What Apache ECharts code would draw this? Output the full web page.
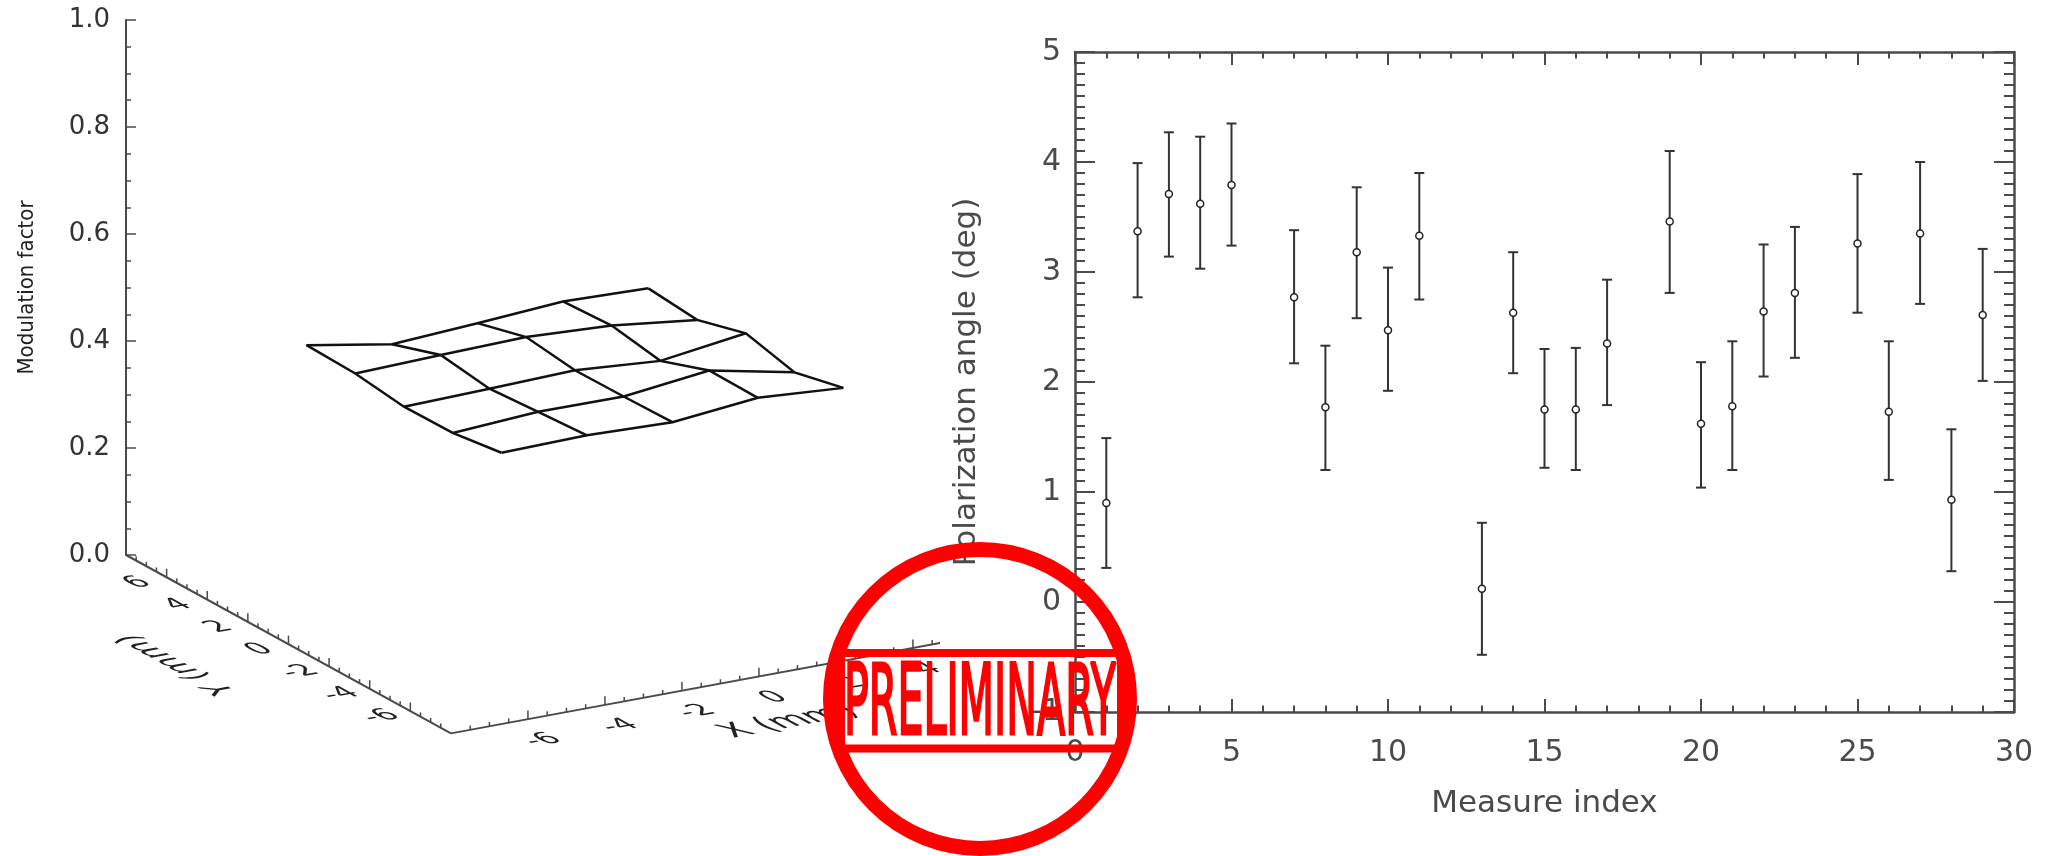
<!DOCTYPE html>
<html>
<head>
<meta charset="utf-8">
<title>Modulation factor map and polarization angle</title>
<script src="https://cdn.jsdelivr.net/npm/echarts@6/dist/echarts.min.js"></script>
<style>
  html, body { margin: 0; background: #fff; }
  #chart { width: 2047px; height: 856px; }
</style>
</head>
<body>
<div id="chart"></div>
<script>
// ---- left panel: modulation factor over the 5x5 scan positions ----
const posX = [-5.0, -2.78, -0.56, 1.66, 3.88];   // X (mm)
const posY = [-4.8, -2.4, 0, 2.4, 4.8];           // Y (mm)
// one row per posY (front to back), one value per posX
const modRow0 = [0.418, 0.421, 0.416, 0.432, 0.421];
const modRow1 = [0.405, 0.415, 0.414, 0.433, 0.400];
const modRow2 = [0.404, 0.408, 0.413, 0.401, 0.423];
const modRow3 = [0.416, 0.421, 0.425, 0.417, 0.398];
const modRow4 = [0.419, 0.391, 0.401, 0.412, 0.407];
const modRows = [modRow0, modRow1, modRow2, modRow3, modRow4];
const mmTickLabels = [-6, -4, -2, 0, 2, 4, 6];

// ---- right panel: polarization angle per measure ----
const measureIndex = [1, 2, 3, 4, 5, 7, 8, 9, 10, 11, 13, 14, 15, 16, 17, 19, 20, 21, 22, 23, 25, 26, 27, 28, 29];
const angle =     [0.90, 3.37, 3.71, 3.62, 3.79, 2.77, 1.77, 3.18, 2.47, 3.33, 0.12, 2.63, 1.75, 1.75, 2.35, 3.46, 1.62, 1.78, 2.64, 2.81, 3.26, 1.73, 3.35, 0.93, 2.61];
const angleLow =  [0.31, 2.77, 3.14, 3.03, 3.24, 2.17, 1.20, 2.58, 1.92, 2.75, -0.48, 2.08, 1.22, 1.20, 1.79, 2.81, 1.04, 1.20, 2.05, 2.22, 2.63, 1.11, 2.71, 0.28, 2.01];
const angleHigh = [1.49, 3.99, 4.27, 4.23, 4.35, 3.38, 2.33, 3.77, 3.04, 3.90, 0.72, 3.18, 2.30, 2.31, 2.93, 4.10, 2.18, 2.37, 3.25, 3.41, 3.89, 2.37, 4.00, 1.57, 3.21];

const FONT = "'DejaVu Sans', 'Liberation Sans', sans-serif";
const INK = '#111';
const AXIS_GREY = '#4a4a4a';

// oblique view of the 3D box on the left grid
// u: horizontal, 1 unit = 1 mm of X ; v: vertical, in modulation factor units
const BOX_MIN = -8, BOX_MAX = 8;
const PROJ_YU = -0.5275;
const PROJ_XV = 0.01331;
const PROJ_YV = 0.02084;

function project(x, y, z) {
  return [
    (x - BOX_MIN) + PROJ_YU * (y - BOX_MAX),
    z + PROJ_XV * (x - BOX_MIN) + PROJ_YV * (y - BOX_MAX)
  ];
}

function meshLine(k) {
  const pts = [];
  for (let i = 0; i < 5; i++) {
    if (k < 5) pts.push([posX[i], posY[k], modRows[k][i]]);
    else pts.push([posX[k - 5], posY[i], modRows[i][k - 5]]);
  }
  return pts;
}

// text laid into the box plane: glyph x-unit -> r, glyph y-unit (down) -> d
function planeText(pos, text, size, r, d) {
  const a = r[0], c = r[1], b = d[0], dd = d[1];
  const E = (a + dd) / 2, F = (a - dd) / 2, G = (c + b) / 2, H = (c - b) / 2;
  const Q = Math.hypot(E, H), R = Math.hypot(F, G);
  const a1 = Math.atan2(G, F), a2 = Math.atan2(H, E);
  const theta = (a2 - a1) / 2, phi = (a2 + a1) / 2;
  return {
    type: 'group', x: pos[0], y: pos[1], rotation: -phi, scaleX: Q + R, scaleY: Q - R,
    children: [{
      type: 'text', rotation: -theta,
      style: { text: text, fontSize: size, fontFamily: FONT, fill: '#222', align: 'center', verticalAlign: 'middle' }
    }]
  };
}

function seg(a, b, w) {
  return { type: 'line', shape: { x1: a[0], y1: a[1], x2: b[0], y2: b[1] }, style: { stroke: AXIS_GREY, lineWidth: w } };
}

function unit(a, b) {
  const l = Math.hypot(b[0] - a[0], b[1] - a[1]);
  return [(b[0] - a[0]) / l, (b[1] - a[1]) / l];
}

function renderBaseAxis(params, api) {
  const P = (x, y, z) => api.coord(project(x, y, z));
  const o = P(0, 0, 0);
  const along = unit(o, P(1, 0, 0));
  const back = unit(o, P(0, 1, 0));
  const down = [-back[0], -back[1]];
  const children = [];
  if (api.value(0) === 0) {
    // Y axis on the left edge of the base
    children.push(seg(P(BOX_MIN, BOX_MAX, 0), P(BOX_MIN, BOX_MIN, 0), 2));
    for (let t = BOX_MIN + 0.5; t < BOX_MAX; t += 0.5) {
      const major = t % 2 === 0;
      children.push(seg(P(BOX_MIN, t, 0), P(BOX_MIN, t, major ? 0.016 : 0.008), 1.5));
    }
    mmTickLabels.forEach(t => children.push(planeText(P(BOX_MIN - 0.75, t, 0), String(t), 29, along, down)));
    children.push(planeText(P(BOX_MIN - 2.9, 0, 0), 'Y (mm)', 33, back, along));
  } else {
    // X axis on the front edge of the base
    children.push(seg(P(BOX_MIN, BOX_MIN, 0), P(BOX_MAX, BOX_MIN, 0), 2));
    for (let t = BOX_MIN + 0.5; t < BOX_MAX; t += 0.5) {
      const major = t % 2 === 0;
      children.push(seg(P(t, BOX_MIN, 0), P(t, BOX_MIN, major ? 0.016 : 0.008), 1.5));
    }
    mmTickLabels.forEach(t => children.push(planeText(P(t - 0.45, BOX_MIN - 1.6, 0), String(t), 29, along, down)));
    children.push(planeText(P(-1, BOX_MIN - 3.4, 0), 'X (mm)', 35, along, down));
  }
  return { type: 'group', children: children };
}

const tickAxis = (extra) => Object.assign({
  type: 'value',
  splitLine: { show: false },
  axisLine: { show: true, onZero: false, lineStyle: { color: AXIS_GREY, width: 2.5 } },
  z: 10
}, extra);

const rightLabel = { fontSize: 30, fontFamily: FONT, color: '#4a4a4a' };

const chart = echarts.init(document.getElementById('chart'), null, { renderer: 'canvas' });

// the stamp text is squeezed to the measured band width
const ctx = document.createElement('canvas').getContext('2d');
const STAMP_FONT = "98px 'DejaVu Sans Condensed', 'DejaVu Sans', sans-serif";
ctx.font = STAMP_FONT;
const stampScale = 272 / ctx.measureText('PRELIMINARY').width;

chart.setOption({
  animation: false,
  backgroundColor: '#fff',
  grid: [
    { left: 126, top: 20, height: 535, width: 770 },
    { left: 1075, right: 33, top: 52, bottom: 144 }
  ],
  xAxis: [
    { gridIndex: 0, type: 'value', min: 0, max: 20, show: false },
    tickAxis({
      gridIndex: 1, min: 0, max: 30, interval: 5, position: 'bottom',
      axisTick: { inside: true, length: 13, lineStyle: { color: AXIS_GREY, width: 2 } },
      minorTick: { show: true, splitNumber: 5, length: 6.5, lineStyle: { color: AXIS_GREY, width: 2 } },
      axisLabel: Object.assign({ margin: 26 }, rightLabel),
      name: 'Measure index', nameLocation: 'middle', nameGap: 76,
      nameTextStyle: { fontSize: 31, fontFamily: FONT, color: '#4a4a4a' }
    }),
    tickAxis({
      gridIndex: 1, min: 0, max: 30, interval: 5, position: 'top',
      axisTick: { inside: true, length: 13, lineStyle: { color: AXIS_GREY, width: 2 } },
      minorTick: { show: true, splitNumber: 5, length: 6.5, lineStyle: { color: AXIS_GREY, width: 2 } },
      axisLabel: { show: false }
    })
  ],
  yAxis: [
    {
      gridIndex: 0, type: 'value', min: 0, max: 1, interval: 0.2,
      splitLine: { show: false },
      axisLine: { show: true, lineStyle: { color: AXIS_GREY, width: 2 } },
      axisTick: { inside: true, length: 10, lineStyle: { color: AXIS_GREY, width: 1.5 } },
      minorTick: { show: true, splitNumber: 4, length: 5, lineStyle: { color: AXIS_GREY, width: 1.5 } },
      axisLabel: { margin: 16, fontSize: 26, fontFamily: FONT, color: '#333', formatter: v => v.toFixed(1) },
      name: 'Modulation factor', nameLocation: 'middle', nameGap: 88, nameRotate: 90,
      nameTextStyle: { fontSize: 22, fontFamily: "'DejaVu Sans Condensed', " + FONT, color: '#222' }
    },
    tickAxis({
      gridIndex: 1, min: -1, max: 5, interval: 1, position: 'left',
      axisTick: { inside: true, length: 20, lineStyle: { color: AXIS_GREY, width: 2 } },
      minorTick: { show: true, splitNumber: 10, length: 10, lineStyle: { color: AXIS_GREY, width: 2 } },
      axisLabel: Object.assign({ margin: 14 }, rightLabel),
      name: 'Polarization angle (deg)', nameLocation: 'middle', nameGap: 93, nameRotate: 90,
      nameTextStyle: { fontSize: 31, fontFamily: FONT, color: '#4a4a4a' }
    }),
    tickAxis({
      gridIndex: 1, min: -1, max: 5, interval: 1, position: 'right',
      axisTick: { inside: true, length: 20, lineStyle: { color: AXIS_GREY, width: 2 } },
      minorTick: { show: true, splitNumber: 10, length: 10, lineStyle: { color: AXIS_GREY, width: 2 } },
      axisLabel: { show: false }
    })
  ],
  graphic: [
    // the right plot sits on its own white sheet, hiding the end of the X (mm) axis
    { type: 'rect', z: 5, shape: { x: 940, y: 0, width: 1107, height: 856 }, style: { fill: '#fff' } },
    { type: 'circle', z: 100, shape: { cx: 980, cy: 699, r: 149.5 }, style: { fill: 'transparent', stroke: '#ff0000', lineWidth: 15 } },
    { type: 'rect', z: 100, shape: { x: 841, y: 653, width: 280, height: 95.5 }, style: { fill: 'transparent', stroke: '#ff0000', lineWidth: 8 } },
    {
      type: 'text', z: 101, x: 980, y: 709, scaleX: stampScale,
      style: {
        text: 'PRELIMINARY', font: STAMP_FONT, fill: '#ff0000', stroke: '#ff0000', lineWidth: 3,
        align: 'center', verticalAlign: 'middle'
      }
    }
  ],
  series: [
    {
      type: 'custom', name: 'mesh', xAxisIndex: 0, yAxisIndex: 0, clip: false, z: 2,
      data: [0, 1, 2, 3, 4, 5, 6, 7, 8, 9].map(k => [k]),
      renderItem: (params, api) => ({
        type: 'polyline',
        shape: { points: meshLine(api.value(0)).map(p => api.coord(project(p[0], p[1], p[2]))) },
        style: { stroke: INK, lineWidth: 2.5, fill: null }
      })
    },
    {
      type: 'custom', name: 'base axes', xAxisIndex: 0, yAxisIndex: 0, clip: false, z: 2,
      data: [[0], [1]],
      renderItem: renderBaseAxis
    },
    {
      type: 'custom', name: 'error', xAxisIndex: 1, yAxisIndex: 1, z: 10,
      data: measureIndex.map((x, i) => [x, angleLow[i], angleHigh[i]]),
      encode: { x: 0, y: [1, 2] },
      renderItem: (params, api) => {
        const lo = api.coord([api.value(0), api.value(1)]);
        const hi = api.coord([api.value(0), api.value(2)]);
        const cap = 5;
        const st = { stroke: '#333', lineWidth: 2 };
        return {
          type: 'group',
          children: [
            { type: 'line', shape: { x1: lo[0], y1: lo[1], x2: hi[0], y2: hi[1] }, style: st },
            { type: 'line', shape: { x1: lo[0] - cap, y1: lo[1], x2: lo[0] + cap, y2: lo[1] }, style: st },
            { type: 'line', shape: { x1: hi[0] - cap, y1: hi[1], x2: hi[0] + cap, y2: hi[1] }, style: st }
          ]
        };
      }
    },
    {
      type: 'scatter', name: 'angle', xAxisIndex: 1, yAxisIndex: 1, z: 11,
      data: measureIndex.map((x, i) => [x, angle[i]]),
      symbol: 'circle', symbolSize: 7,
      itemStyle: { color: '#fff', borderColor: '#222', borderWidth: 1.5, opacity: 1 }
    }
  ]
});
</script>
</body>
</html>
